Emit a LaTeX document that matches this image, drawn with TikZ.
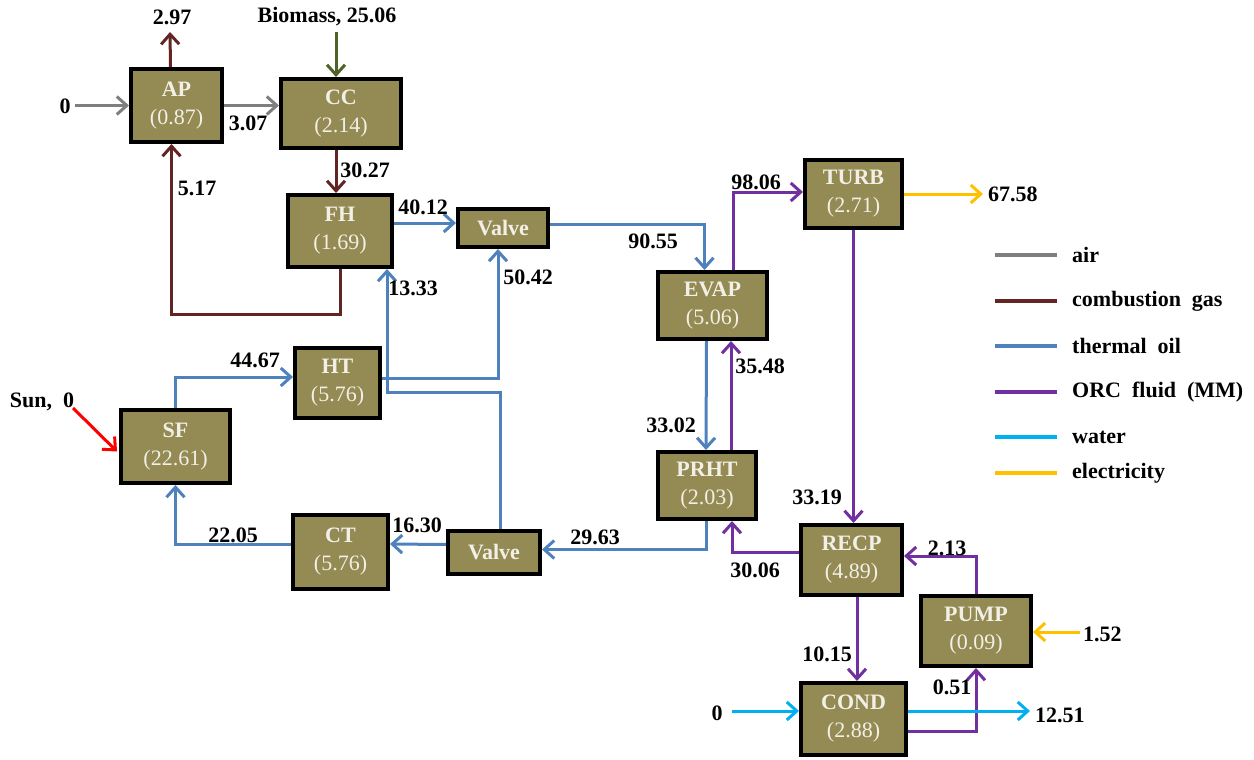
\documentclass[tikz,border=0pt]{standalone}
\usepackage{fontspec}
\setmainfont{Liberation Serif}
\usetikzlibrary{arrows.meta,calc}
\definecolor{boxc}{RGB}{148,138,84}
\definecolor{boxtxt}{RGB}{242,240,230}
\definecolor{aircol}{RGB}{127,127,127}
\definecolor{gascol}{RGB}{99,37,35}
\definecolor{oilcol}{RGB}{79,129,189}
\definecolor{orccol}{RGB}{112,48,160}
\definecolor{watcol}{RGB}{0,176,240}
\definecolor{elecol}{RGB}{255,192,0}
\definecolor{biocol}{RGB}{79,98,40}
\definecolor{suncol}{RGB}{255,0,0}
\begin{document}
\begin{tikzpicture}[x=1pt,y=-1pt,
  blk/.style={draw=black, line width=4pt, fill=boxc, text=boxtxt, align=center, inner sep=0pt,
    font=\fontsize{22}{28}\selectfont},
  lbl/.style={font=\fontsize{22}{26}\selectfont\bfseries, inner sep=0pt, text=black},
  con/.style={line width=3pt, -{Straight Barb[length=10pt,width=18pt]}},
  leg/.style={line width=3.5pt},
  air/.style={con, draw=aircol},
  gas/.style={con, draw=gascol},
  oil/.style={con, draw=oilcol},
  orc/.style={con, draw=orccol},
  wat/.style={con, draw=watcol},
  ele/.style={con, draw=elecol},
]
\useasboundingbox (0,0) rectangle (1254,760);

% boxes
\node[blk, minimum width=91pt, minimum height=73pt] (AP) at (176.5,105.5) {\textbf{AP}\\(0.87)};
\node[blk, minimum width=120pt, minimum height=69pt] (CC) at (341,113.5) {\textbf{CC}\\(2.14)};
\node[blk, minimum width=104pt, minimum height=72pt] (FH) at (340,231) {\textbf{FH}\\(1.69)};
\node[blk, minimum width=90pt, minimum height=38pt] (V1) at (503,228) {\textbf{Valve}};
\node[blk, minimum width=85pt, minimum height=70pt] (HT) at (337.5,383) {\textbf{HT}\\(5.76)};
\node[blk, minimum width=109pt, minimum height=73pt] (SF) at (175.5,446.5) {\textbf{SF}\\(22.61)};
\node[blk, minimum width=95pt, minimum height=74pt] (CT) at (340.5,552) {\textbf{CT}\\(5.76)};
\node[blk, minimum width=92pt, minimum height=43pt] (V2) at (494,552.5) {\textbf{Valve}};
\node[blk, minimum width=109pt, minimum height=67pt] (EVAP) at (712.5,305.5) {\textbf{EVAP}\\(5.06)};
\node[blk, minimum width=98pt, minimum height=67pt] (PRHT) at (707,485.5) {\textbf{PRHT}\\(2.03)};
\node[blk, minimum width=97pt, minimum height=68pt] (TURB) at (853.5,194) {\textbf{TURB}\\(2.71)};
\node[blk, minimum width=101pt, minimum height=70pt] (RECP) at (851.5,560) {\textbf{RECP}\\(4.89)};
\node[blk, minimum width=110pt, minimum height=70pt] (PUMP) at (976,631) {\textbf{PUMP}\\(0.09)};
\node[blk, minimum width=105pt, minimum height=72pt] (COND) at (853.5,719) {\textbf{COND}\\(2.88)};

% free ends
\coordinate (air0) at (75,105.5);
\coordinate (gasout) at (170,32);
\coordinate (bio) at (336,32);
\coordinate (sun) at (73,408);
\coordinate (eout) at (983,194);
\coordinate (ein) at (1080,632);
\coordinate (win) at (732,711);
\coordinate (wout) at (1030,711);

% air
\draw[air] (air0) -- (AP.west);
\draw[air] (AP.east) -- (AP.east -| CC.west);
% combustion gas
\draw[gas] ($(AP.north)+(-6,0)$) -- (gasout);
\draw[gas] ($(FH.south)$) -- ++(0,45) -| ($(AP.south)+(-5,0)$);
\draw[gas] (bio |- CC.south) -- (bio |- FH.north);
% biomass
\draw[con, draw=biocol] (bio) -- (bio |- CC.north);
% sun
\draw[con, draw=suncol] (sun) -- ($(SF.west)+(-2,5)$);
% thermal oil
\draw[oil] ($(FH.east)+(0,-8)$) -- ($(V1.west)+(0,-5)$);
\draw[oil] ($(V1.east)+(0,-4)$) -| ($(EVAP.north)+(-8,0)$);
\draw[oil] ($(EVAP.south)+(-6,0)$) -- ($(PRHT.north)+(-1,0)$);
\draw[oil] ($(PRHT.south)+(-1,0)$) |- ($(V2.east)+(0,-3)$);
\draw[oil] ($(V2.west)+(0,-8)$) -- ($(CT.east)+(0,-8)$);
\draw[oil] ($(V2.north)+(6,0)$) -- ++(0,-137) -| ($(FH.south east)+(-7,0)$);
\draw[oil] ($(HT.east)+(0,-5)$) -| ($(V1.south)+(-5,0)$);
\draw[oil] (SF.north) |- ($(HT.west)+(0,-6)$);
\draw[oil] ($(CT.west)+(0,-8)$) -| (SF.south);
% ORC fluid
\draw[orc] ($(EVAP.north)+(20.5,0)$) |- ($(TURB.west)+(0,-2)$);
\draw[orc] (TURB.south) -- (TURB.south |- RECP.north);
\draw[orc] ($(PRHT.north)+(24,0)$) -- ($(EVAP.south)+(18.5,0)$);
\draw[orc] ($(RECP.west)+(0,-8)$) -| ($(PRHT.south)+(25,0)$);
\draw[orc] (PUMP.north) |- ($(RECP.east)+(0,-4)$);
\draw[orc] ($(RECP.south)+(5.5,0)$) -- ($(COND.north)+(3.5,0)$);
\draw[orc] ($(COND.east)+(0,12)$) -| (PUMP.south);
% water
\draw[wat] (win) -- (win -| COND.west);
\draw[wat] ($(COND.east)+(0,-8)$) -- (wout);
% electricity
\draw[ele] (TURB.east) -- (eout);
\draw[ele] (ein) -- (ein -| PUMP.east);

% labels
\node[lbl] (t297) at (172,17) {2.97};
\node[lbl] (tbio) at (327,17) {Biomass, 25.06};
\node[lbl] (t0a) at (65,106) {0};
\node[lbl] (t307) at (248,123) {3.07};
\node[lbl] (t517) at (197,188) {5.17};
\node[lbl] (t3027) at (365,170) {30.27};
\node[lbl] (t4012) at (423,207) {40.12};
\node[lbl] (t1333) at (413,288) {13.33};
\node[lbl] (t5042) at (528,277) {50.42};
\node[lbl] (t4467) at (255,360) {44.67};
\node[lbl] (tsun) at (42,402) {Sun,\ \ 0};
\node[lbl] (t2205) at (233,535) {22.05};
\node[lbl] (t1630) at (417,525) {16.30};
\node[lbl] (t2963) at (595,537) {29.63};
\node[lbl] (t9055) at (653,241) {90.55};
\node[lbl] (t9806) at (756,182) {98.06};
\node[lbl, anchor=west] (t6758) at (988,194) {67.58};
\node[lbl] (t3548) at (760,366) {35.48};
\node[lbl] (t3302) at (671,425) {33.02};
\node[lbl] (t3319) at (817,497) {33.19};
\node[lbl] (t3006) at (755,570) {30.06};
\node[lbl] (t213) at (947,548) {2.13};
\node[lbl, anchor=west] (t152) at (1083,634) {1.52};
\node[lbl] (t1015) at (827,654) {10.15};
\node[lbl] (t0b) at (717,713) {0};
\node[lbl, anchor=west] (t1251) at (1035,715) {12.51};
\node[lbl] (t051) at (952,687) {0.51};

% legend
\foreach \yy/\cc/\tt [count=\i] in {255/aircol/air, 301/gascol/{combustion\ \ gas}, 346/oilcol/{thermal\ \ oil}, 392/orccol/{ORC\ \ fluid\ \ (MM)}, 437/watcol/water, 473/elecol/electricity}{
  \coordinate (lg\i a) at (995,\yy);
  \coordinate (lg\i b) at (1057,\yy);
  \draw[leg, draw=\cc] (lg\i a) -- (lg\i b);
  \node[lbl, anchor=west] (lgt\i) at (1072,\yy) {\tt};
}
\end{tikzpicture}
\end{document}
